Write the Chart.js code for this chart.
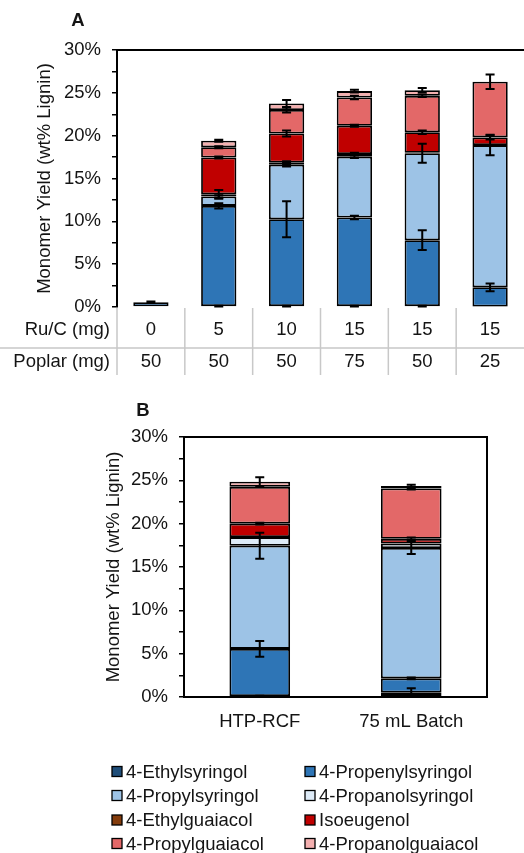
<!DOCTYPE html>
<html><head><meta charset="utf-8">
<script src="https://cdn.jsdelivr.net/npm/chart.js@4"></script>
<style>
html,body{margin:0;padding:0;background:#fff;}
#wa{position:absolute;left:0;top:0;width:524px;height:385px;}
#wb{position:absolute;left:0;top:385px;width:524px;height:468px;}
</style></head><body>
<div id="wa"><canvas id="ca" width="524" height="385"></canvas></div>
<div id="wb"><canvas id="cb" width="524" height="468"></canvas></div>
<script>
// ---- series names & colours ----
const seriesNames = ['4-Ethylsyringol','4-Propenylsyringol','4-Propylsyringol','4-Propanolsyringol','4-Ethylguaiacol','Isoeugenol','4-Propylguaiacol','4-Propanolguaiacol'];
const seriesColors = ['#1f4e79','#2e75b6','#9dc3e6','#deebf7','#843c0c','#c00000','#e36868','#f4b0b0'];

// ---- Panel A ----
const ruC    = ['0','5','10','15','15','15'];
const poplar = ['50','50','50','75','50','25'];
const ethylsyringolA   = [0, 0.1, 0.1, 0.1, 0.1, 0.05];
const propenylsyringolA= [0.55, 11.7, 10.15, 10.35, 7.7, 2.25];
const propylsyringolA  = [0, 1.1, 6.35, 7.1, 10.15, 16.6];
const propanolsyringolA= [0, 0.25, 0.25, 0.3, 0.05, 0];
const ethylguaiacolA   = [0, 0, 0, 0, 0, 0];
const isoeugenolA      = [0, 4.3, 3.4, 3.3, 2.4, 0.9];
const propylguaiacolA  = [0, 1.2, 2.75, 3.3, 4.25, 6.5];
const propanolguaiacolA= [0, 0.75, 0.75, 0.75, 0.65, 0];
const errEthylsyringolA   = [0, 0.05, 0.05, 0.05, 0.05, 0];
const errPropenylsyringolA= [0.08, 0.3, 2.1, 0.2, 1.15, 0.45];
const errPropylsyringolA  = [0, 0.15, 0.2, 0.15, 1.1, 1.2];
const errPropanolsyringolA= [0, 0.5, 0.15, 0.15, 0, 0];
const errEthylguaiacolA   = [0, 0, 0, 0, 0, 0];
const errIsoeugenolA      = [0, 0.12, 0.35, 0.12, 0.2, 0.25];
const errPropylguaiacolA  = [0, 0.12, 0.3, 0.2, 0.15, 0.85];
const errPropanolguaiacolA= [0, 0.12, 0.4, 0.15, 0.25, 0];

// ---- Panel B ----
const categoriesB = ['HTP-RCF','75 mL Batch'];
const ethylsyringolB   = [0.1, 0.5];
const propenylsyringolB= [5.45, 1.65];
const propylsyringolB  = [11.9, 15.05];
const propanolsyringolB= [1.0, 0.5];
const ethylguaiacolB   = [0, 0];
const isoeugenolB      = [1.55, 0.55];
const propylguaiacolB  = [4.25, 5.8];
const propanolguaiacolB= [0.6, 0.3];
const errEthylsyringolB   = [0.05, 0.5];
const errPropenylsyringolB= [0.9, 0.1];
const errPropylsyringolB  = [1.5, 0.7];
const errPropanolsyringolB= [0, 0];
const errEthylguaiacolB   = [0, 0];
const errIsoeugenolB      = [0.1, 0.15];
const errPropylguaiacolB  = [0, 0.1];
const errPropanolguaiacolB= [0.5, 0.15];

const yTicks = [0,5,10,15,20,25,30];

const FONT = "'Liberation Sans', Arial, sans-serif";
const TXT = '#141414';

function buildDatasets(valueLists, errLists, barPct){
  return valueLists.map((vals,k)=>({
    label: seriesNames[k], data: vals, errors: errLists[k],
    backgroundColor: seriesColors[k], borderColor:'#000', borderWidth:1.8,
    borderSkipped:false, barPercentage:barPct, categoryPercentage:1
  }));
}

const errorBars = {
  id:'errorBars',
  afterDatasetsDraw(chart){
    const ctx = chart.ctx, ys = chart.scales.y, ds = chart.data.datasets;
    ctx.save(); ctx.strokeStyle='#000'; ctx.lineWidth=2;
    for(let i=0;i<chart.data.labels.length;i++){
      let cum = 0;
      ds.forEach((d,k)=>{
        cum += d.data[i];
        const e = d.errors[i];
        if(!e) return;
        const x = chart.getDatasetMeta(k).data[i].x;
        const y1 = ys.getPixelForValue(cum+e), y2 = ys.getPixelForValue(Math.max(0,cum-e));
        ctx.beginPath();
        ctx.moveTo(x,y1); ctx.lineTo(x,y2);
        ctx.moveTo(x-4.5,y1); ctx.lineTo(x+4.5,y1);
        ctx.moveTo(x-4.5,y2); ctx.lineTo(x+4.5,y2);
        ctx.stroke();
      });
    }
    ctx.restore();
  }
};

function yAxis(width, titlePad){
  return {
    stacked:true, min:0, max:30,
    afterFit: s => { s.width = width; },
    afterBuildTicks: s => { const t=[]; for(let v=0; v<=30; v+=2.5) t.push({value:v}); s.ticks = t; },
    ticks:{autoSkip:false, callback: v => yTicks.includes(v) ? v + '%' : '', font:{family:FONT,size:18.5}, color:TXT, padding:11},
    grid:{drawOnChartArea:false, tickLength:5, color:'#000', lineWidth:1.5},
    border:{color:'#000', width:2},
    title:{display:true, text:'Monomer Yield (wt% Lignin)', font:{family:FONT,size:18.5}, color:TXT, padding:{top:titlePad, bottom:0}}
  };
}

// Panel A extras: frame top line, table, label
const panelA = {
  id:'panelA',
  afterDraw(chart){
    const ctx = chart.ctx, {left,right,top,bottom} = chart.chartArea;
    ctx.save();
    ctx.strokeStyle='#000'; ctx.lineWidth=2;
    ctx.beginPath(); ctx.moveTo(left,top); ctx.lineTo(chart.width,top); ctx.stroke();
    // table
    const n = ruC.length, w = (right-left)/n;
    ctx.strokeStyle='#c8c8c8'; ctx.lineWidth=1.5;
    ctx.beginPath();
    for(let i=0;i<n;i++){ const x = left + i*w; ctx.moveTo(x,bottom+1); ctx.lineTo(x,bottom+68); }
    ctx.moveTo(0,bottom+41); ctx.lineTo(chart.width,bottom+41);
    ctx.stroke();
    ctx.fillStyle=TXT; ctx.font = "18.5px " + FONT; ctx.textBaseline='middle';
    ctx.textAlign='right';
    ctx.fillText('Ru/C (mg)', left-7, bottom+23);
    ctx.fillText('Poplar (mg)', left-7, bottom+55);
    ctx.textAlign='center';
    for(let i=0;i<n;i++){
      const x = chart.getDatasetMeta(0).data[i].x;
      ctx.fillText(ruC[i], x, bottom+23);
      ctx.fillText(poplar[i], x, bottom+55);
    }
    ctx.font = "bold 18.5px " + FONT;
    ctx.fillText('A', 78, 21);
    ctx.restore();
  }
};

// Panel B extras: frame, legend, label
const panelB = {
  id:'panelB',
  afterDraw(chart){
    const ctx = chart.ctx, {left,right,top,bottom} = chart.chartArea;
    ctx.save();
    ctx.strokeStyle='#000'; ctx.lineWidth=2;
    ctx.beginPath(); ctx.moveTo(left,top); ctx.lineTo(right,top); ctx.lineTo(right,bottom); ctx.stroke();
    ctx.fillStyle=TXT; ctx.textBaseline='middle'; ctx.textAlign='center';
    ctx.font = "bold 18.5px " + FONT;
    ctx.fillText('B', 143, 26);
    // legend
    ctx.font = "18.5px " + FONT; ctx.textAlign='left';
    const colX = [112, 305], rowY = [386.5, 410.5, 435, 458.5];
    chart.data.datasets.forEach((d,k)=>{
      const cx = colX[k%2], cy = rowY[Math.floor(k/2)];
      ctx.fillStyle = d.backgroundColor; ctx.fillRect(cx, cy-5, 10, 10);
      ctx.strokeStyle='#000'; ctx.lineWidth=1.3; ctx.strokeRect(cx, cy-5, 10, 10);
      ctx.fillStyle=TXT; ctx.fillText(d.label, cx+14, cy+1);
    });
    ctx.restore();
  }
};

new Chart(document.getElementById('ca'), {
  type:'bar',
  data:{
    labels: ruC.map((r,i)=> r + ' / ' + poplar[i]),
    datasets: buildDatasets(
      [ethylsyringolA,propenylsyringolA,propylsyringolA,propanolsyringolA,ethylguaiacolA,isoeugenolA,propylguaiacolA,propanolguaiacolA],
      [errEthylsyringolA,errPropenylsyringolA,errPropylsyringolA,errPropanolsyringolA,errEthylguaiacolA,errIsoeugenolA,errPropylguaiacolA,errPropanolguaiacolA],
      0.52)
  },
  options:{
    responsive:false, animation:false,
    layout:{padding:{top:50,bottom:78,left:0,right:0}},
    plugins:{legend:{display:false}, tooltip:{enabled:false}},
    scales:{
      x:{stacked:true, display:false},
      y: yAxis(117, 34)
    }
  },
  plugins:[errorBars, panelA]
});

new Chart(document.getElementById('cb'), {
  type:'bar',
  data:{
    labels: categoriesB,
    datasets: buildDatasets(
      [ethylsyringolB,propenylsyringolB,propylsyringolB,propanolsyringolB,ethylguaiacolB,isoeugenolB,propylguaiacolB,propanolguaiacolB],
      [errEthylsyringolB,errPropenylsyringolB,errPropylsyringolB,errPropanolsyringolB,errEthylguaiacolB,errIsoeugenolB,errPropylguaiacolB,errPropanolguaiacolB],
      0.40)
  },
  options:{
    responsive:false, animation:false,
    layout:{padding:{top:52,bottom:0,left:0,right:37}},
    plugins:{legend:{display:false}, tooltip:{enabled:false}},
    scales:{
      x:{stacked:true, afterFit: s => { s.height = 156; },
         grid:{display:false, drawTicks:false}, border:{color:'#000', width:2},
         ticks:{font:{family:FONT,size:18.5}, color:TXT, padding:14}},
      y: yAxis(184, 103)
    }
  },
  plugins:[errorBars, panelB]
});
</script>
</body></html>
